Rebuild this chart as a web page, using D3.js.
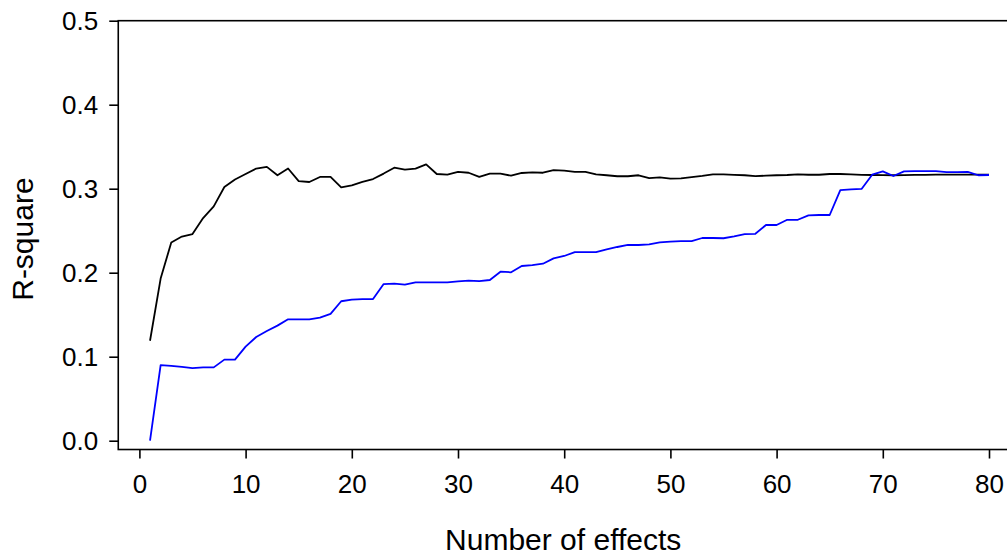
<!DOCTYPE html>
<html>
<head>
<meta charset="utf-8">
<script src="https://cdn.jsdelivr.net/npm/d3@7"></script>
<style>
  html, body { margin: 0; padding: 0; background: #ffffff; }
  svg { display: block; }
  text { font-family: "Liberation Sans", Arial, Helvetica, sans-serif; fill: #000; }
</style>
</head>
<body>
<svg id="chart" width="1007" height="556"></svg>
<script>
// ---- data ----
const effects = d3.range(1, 81);
const blackSeries = [
  0.119, 0.193, 0.236, 0.243, 0.246, 0.265, 0.279, 0.302, 0.311, 0.3175,
  0.324, 0.326, 0.316, 0.324, 0.309, 0.308, 0.314, 0.314, 0.3017, 0.304,
  0.308, 0.3115, 0.318, 0.325, 0.3226, 0.324, 0.329, 0.3175, 0.3167, 0.320,
  0.319, 0.314, 0.318, 0.318, 0.3155, 0.3187, 0.3195, 0.319, 0.322, 0.3214,
  0.320, 0.320, 0.317, 0.316, 0.3148, 0.3148, 0.316, 0.3127, 0.3135, 0.312,
  0.3123, 0.3137, 0.3152, 0.317, 0.317, 0.3165, 0.316, 0.315, 0.3155, 0.316,
  0.3163, 0.317, 0.3166, 0.3166, 0.3175, 0.3175, 0.317, 0.3165, 0.3163, 0.3162,
  0.316, 0.3162, 0.3165, 0.3165, 0.3167, 0.3168, 0.3168, 0.3167, 0.3167, 0.3167
];
const blueSeries = [
  0.000, 0.090, 0.089, 0.088, 0.0865, 0.0873, 0.0873, 0.0965, 0.0965, 0.112,
  0.1235, 0.1306, 0.137, 0.1445, 0.1445, 0.1445, 0.1465, 0.151, 0.166, 0.168,
  0.1685, 0.1687, 0.1865, 0.187, 0.1857, 0.1886, 0.1886, 0.1886, 0.1886, 0.1897,
  0.1905, 0.190, 0.1913, 0.2012, 0.2005, 0.208, 0.209, 0.2107, 0.217, 0.2199,
  0.2246, 0.2246, 0.2246, 0.2278, 0.2306, 0.233, 0.233, 0.2337, 0.236, 0.237,
  0.2377, 0.2377, 0.2413, 0.2413, 0.241, 0.2433, 0.246, 0.2463, 0.2568, 0.2568,
  0.263, 0.263, 0.2683, 0.2687, 0.2687, 0.2984, 0.2993, 0.2997, 0.3167, 0.3207,
  0.3151, 0.3207, 0.321, 0.321, 0.321, 0.3198, 0.3198, 0.320, 0.316, 0.3163
];
const xTicks = [0, 10, 20, 30, 40, 50, 60, 70, 80];
const yTicks = [0.0, 0.1, 0.2, 0.3, 0.4, 0.5];
const xTitle = "Number of effects";
const yTitle = "R-square";

// ---- layout ----
const svg = d3.select("#chart");
const x = d3.scaleLinear().domain([0, 80]).range([139.4, 989]);
const y = d3.scaleLinear().domain([0, 0.5]).range([440.7, 20.7]);

const boxLeft = x(-1.99), boxRight = x(83.2), boxTop = y(0.5), boxBottom = y(-0.0105);

// box
svg.append("rect")
  .attr("x", boxLeft).attr("y", boxTop)
  .attr("width", boxRight - boxLeft).attr("height", boxBottom - boxTop)
  .attr("fill", "none").attr("stroke", "#000").attr("stroke-width", 1.6);

// x axis
const xAxis = svg.append("g")
  .attr("transform", `translate(0,${boxBottom})`)
  .call(d3.axisBottom(x).tickValues(xTicks).tickFormat(d3.format("d")).tickSize(9).tickPadding(16));
xAxis.select(".domain").remove();
xAxis.selectAll("line").attr("stroke", "#000").attr("stroke-width", 1.6);
xAxis.selectAll("text").style("font-size", "26px").attr("font-family", null);

// y axis
const yAxis = svg.append("g")
  .attr("transform", `translate(${boxLeft},0)`)
  .call(d3.axisLeft(y).tickValues(yTicks).tickFormat(d3.format(".1f")).tickSize(9).tickPadding(11));
yAxis.select(".domain").remove();
yAxis.selectAll("line").attr("stroke", "#000").attr("stroke-width", 1.6);
yAxis.selectAll("text").style("font-size", "26px").attr("font-family", null);

// titles
svg.append("text")
  .attr("x", x(40) - 1).attr("y", 550)
  .attr("text-anchor", "middle")
  .style("font-size", "30px")
  .text(xTitle);

svg.append("text")
  .attr("transform", `translate(33,${y(0.24)}) rotate(-90)`)
  .attr("text-anchor", "middle")
  .style("font-size", "30px")
  .text(yTitle);

// lines
const line = (vals) => d3.line()
  .x((d, i) => x(effects[i]))
  .y(d => y(d))(vals);

svg.append("path").attr("d", line(blackSeries))
  .attr("fill", "none").attr("stroke", "#000000").attr("stroke-width", 1.8)
  .attr("stroke-linejoin", "round");
svg.append("path").attr("d", line(blueSeries))
  .attr("fill", "none").attr("stroke", "#0000ff").attr("stroke-width", 1.8)
  .attr("stroke-linejoin", "round");
</script>
</body>
</html>
